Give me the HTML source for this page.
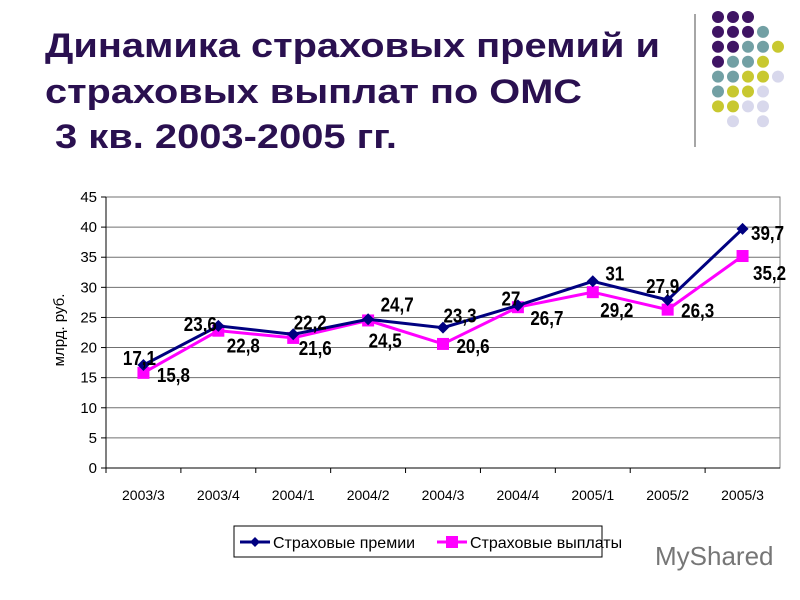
<!DOCTYPE html>
<html><head><meta charset="utf-8"><style>
body{margin:0;background:#fff;}
svg{display:block;font-family:"Liberation Sans",sans-serif;}
</style></head><body>
<svg id="c" width="800" height="600" viewBox="0 0 800 600">
<g fill="#2a1050" font-weight="bold" font-size="34">
<text x="45" y="57" textLength="615" lengthAdjust="spacingAndGlyphs">Динамика страховых премий и</text>
<text x="45" y="103" textLength="537" lengthAdjust="spacingAndGlyphs">страховых выплат по ОМС</text>
<text x="55" y="148" textLength="342" lengthAdjust="spacingAndGlyphs">3 кв. 2003-2005 гг.</text>
</g>
<line x1="695" y1="14" x2="695" y2="147" stroke="#888" stroke-width="1.5"/>
<g id="dots"></g>
<g id="plot"></g>
<text x="0" y="0" transform="translate(64,330) rotate(-90)" text-anchor="middle" font-size="15" fill="#000">млрд. руб.</text>
<g>
<rect x="234" y="526" width="368" height="31" fill="#fff" stroke="#000" stroke-width="1"/>
<g>
<line x1="240" y1="542" x2="270" y2="542" stroke="#000080" stroke-width="3"/>
<path d="M255 537 L260 542 L255 547 L250 542Z" fill="#000080"/>
<text x="273" y="548" font-size="16" fill="#000">Страховые премии</text>
</g>
<g>
<line x1="437" y1="542" x2="467" y2="542" stroke="#ff00ff" stroke-width="3"/>
<rect x="446" y="536" width="12" height="12" fill="#ff00ff"/>
<text x="470" y="548" font-size="16" fill="#000">Страховые выплаты</text>
</g>
</g>
<text x="655" y="565" font-size="26" fill="#555" opacity="0.8">MyShared</text>
</svg>
<script>
const categories=["2003/3","2003/4","2004/1","2004/2","2004/3","2004/4","2005/1","2005/2","2005/3"];
const premiums=[17.1,23.6,22.2,24.7,23.3,27,31,27.9,39.7];
const payouts=[15.8,22.8,21.6,24.5,20.6,26.7,29.2,26.3,35.2];
const yTicks=[0,5,10,15,20,25,30,35,40,45];
const premLabelDx=[-4,-18,17,29,17,-7,22,-5,25];
const premLabelDy=[-7,-2,-12,-15,-12,-7,-8,-14,4];
const payLabelDx=[30,25,22,17,30,29,24,30,27];
const payLabelDy=[2,15,10,20,2,11,18,1,17];
const NS="http://www.w3.org/2000/svg";
const L=106,R=780,T=197,B=468,ymax=45;
const x=i=>L+(R-L)/categories.length*(i+0.5);
const y=v=>B-(B-T)*v/ymax;
const plot=document.getElementById('plot');
function mk(tag,attrs,parent){const e=document.createElementNS(NS,tag);for(const k in attrs)e.setAttribute(k,attrs[k]);(parent||plot).appendChild(e);return e;}
const bg=mk('rect',{x:L,y:T,width:R-L,height:B-T,fill:'#fff',stroke:'#808080','stroke-width':1});


yTicks.forEach(t=>{
 if(t>0){const g=mk('line',{x1:L,x2:R,y1:y(t),y2:y(t),stroke:'#707070','stroke-width':1});
 
 }
 const tk=mk('line',{x1:L-5,x2:L,y1:y(t),y2:y(t),stroke:'#000'});
 
 
 const tl=mk('text',{x:L-9,y:y(t)+5,'text-anchor':'end','font-size':15,fill:'#000'});
 tl.textContent=t;
 
 
});
const ax=mk('line',{x1:L,x2:L,y1:T,y2:B,stroke:'#000'});


const axx=mk('line',{x1:L,x2:R,y1:B,y2:B,stroke:'#000'});


const step=(R-L)/categories.length;
categories.forEach((c,i)=>{
 const tk=mk('line',{x1:L+step*i,x2:L+step*i,y1:B,y2:B+5,stroke:'#000'});
 
 
 const tl=mk('text',{x:x(i),y:B+32,'text-anchor':'middle','font-size':14,fill:'#000'});
 tl.textContent=c;
 
 
});
function series(vals,color,name,marker){
 const pl=mk('polyline',{points:vals.map((v,i)=>x(i)+','+y(v)).join(' '),fill:'none',stroke:color,'stroke-width':3});
 
 
 vals.forEach((v,i)=>{
  let m;
  if(marker==='d'){m=mk('path',{d:`M${x(i)} ${y(v)-6}L${x(i)+6} ${y(v)}L${x(i)} ${y(v)+6}L${x(i)-6} ${y(v)}Z`,fill:color});}
  else{m=mk('rect',{x:x(i)-6,y:y(v)-6,width:12,height:12,fill:color});}
  
  
 });
}
series(payouts,'#ff00ff','payouts','s');
series(premiums,'#000080','premiums','d');
function labels(vals,dx,dy,name){
 vals.forEach((v,i)=>{
  const t=mk('text',{x:0,y:0,transform:`translate(${x(i)+dx[i]},${y(v)+dy[i]+7}) scale(0.85,1)`,'text-anchor':'middle','font-size':20,'font-weight':'bold',fill:'#000'});
  t.textContent=String(v).replace('.',',');
  
  
 });
}
labels(premiums,premLabelDx,premLabelDy,'premiums');
labels(payouts,payLabelDx,payLabelDy,'payouts');
const dotRows=["PPP","PPPT","PPTTY","PTTY","TTYYL","TYYL","YYLL",".L.L"];
const dotCol={P:'#3f1464',T:'#72a0a4',Y:'#c8c830',L:'#d8d8ec'};
const dots=document.getElementById('dots');
dotRows.forEach((r,ri)=>{[...r].forEach((ch,ci)=>{
 if(ch==='.')return;
 const d=mk('circle',{cx:718+15*ci,cy:17+14.9*ri,r:6,fill:dotCol[ch]},dots);
 
 
});});
</script>
</body></html>
